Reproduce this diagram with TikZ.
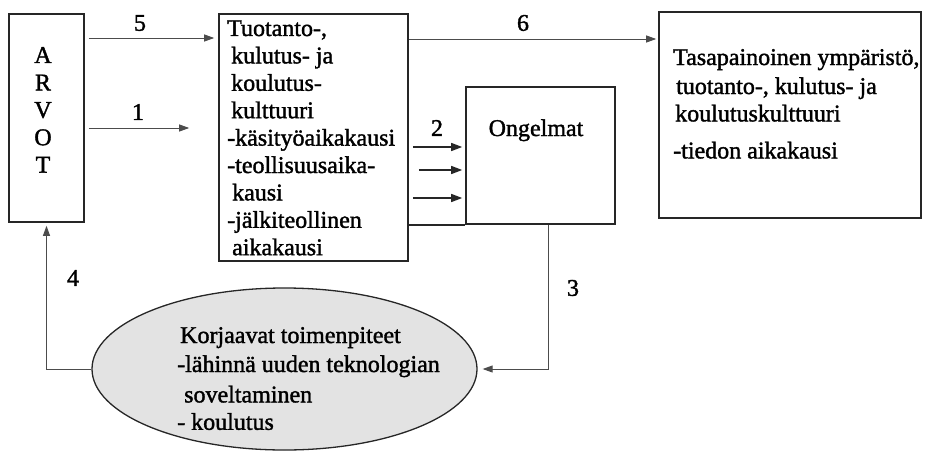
\documentclass[tikz,border=0pt]{standalone}
\usepackage{fontspec}
\setmainfont{Liberation Serif}[FakeBold=1.5]
\usetikzlibrary{arrows.meta,shapes.geometric}
\begin{document}
\begin{tikzpicture}[x=1pt,y=-1pt,
  box/.style={draw=black!85,line width=1.6pt,inner sep=0,rectangle},
  txt/.style={inner sep=0,anchor=base west,text=black,font=\fontsize{24}{27.4}\selectfont},
  lbl/.style={inner sep=0,text=black,font=\fontsize{24}{27.4}\selectfont},
  arr/.style={draw=black!70,line width=0.9pt,-{Triangle[length=10pt,width=7pt]}},
  heavy/.style={draw=black!85,line width=1.4pt,-{Triangle[length=11pt,width=8pt]}}]
\useasboundingbox (0,0) rectangle (925,452);

% boxes
\node[box,minimum width=75pt,minimum height=208pt] (arvot) at (46.5,118) {};
\node[box,minimum width=189pt,minimum height=247pt] (prod) at (313.5,137.5) {};
\node[box,minimum width=149pt,minimum height=137pt] (ong) at (540.5,155.5) {};
\node[box,minimum width=262pt,minimum height=206pt] (env) at (790,115) {};
\node[ellipse,draw=black!85,line width=1.3pt,fill=black!11,
      minimum width=385pt,minimum height=162pt,inner sep=0] (ell) at (284.5,369) {};

% box texts
\node[txt,anchor=base] (arvottxt) at (43,63)
  {\begin{tabular}[t]{@{}c@{}}A\\R\\V\\O\\T\end{tabular}};
\node[txt] (prodtxt) at (227,36)
  {\begin{tabular}[t]{@{}l@{}}Tuotanto-,\\
   \hspace*{4pt}kulutus- ja\\
   \hspace*{4pt}koulutus-\\
   \hspace*{4pt}kulttuuri\\
   -käsityöaikakausi\\
   -teollisuusaika-\\
   \hspace*{5pt}kausi\\
   -jälkiteollinen\\
   \hspace*{5pt}aikakausi\end{tabular}};
\node[txt,anchor=base] (ongtxt) at (536,136) {Ongelmat};
\node[txt] (envtxt) at (673,65)
  {\begin{tabular}[t]{@{}l@{}}Tasapainoinen ympäristö,\\[1.6pt]
   \hspace*{3pt}tuotanto-, kulutus- ja\\
   \hspace*{2pt}koulutuskulttuuri\\[9.6pt]
   -tiedon aikakausi\end{tabular}};
\node[txt] (elltxt) at (177,343)
  {\begin{tabular}[t]{@{}l@{}}\hspace*{3pt}Korjaavat toimenpiteet\\[1.6pt]
   -lähinnä uuden teknologian\\[3pt]
   \hspace*{7pt}soveltaminen\\
   - koulutus\end{tabular}};

% connectors
\draw[arr] ([xshift=4pt]arvot.east |- 0,38) -- ([xshift=-4pt]prod.west |- 0,38);
\draw[arr] ([xshift=4pt]arvot.east |- 0,128) -- ([xshift=-29pt]prod.west |- 0,128);
\draw[arr] (prod.east |- 0,39) -- ([xshift=-2pt]env.west |- 0,39);
\draw[heavy] ([xshift=4pt]prod.east |- 0,147) -- ([xshift=-3pt]ong.west |- 0,147);
\draw[heavy] ([xshift=10pt]prod.east |- 0,170) -- ([xshift=-3pt]ong.west |- 0,170);
\draw[heavy] ([xshift=4pt]prod.east |- 0,198) -- ([xshift=-3pt]ong.west |- 0,198);
\draw[draw=black!85,line width=1.6pt] (prod.east |- ong.south) -- (ong.south west);
\draw[arr] ([xshift=7.5pt]ong.south) -- ([xshift=7.5pt]ong.south |- ell.east)
  -- ([xshift=5pt]ell.east);
\draw[arr] (ell.west) -- (arvot.south |- ell.west) -- ([yshift=-3pt]arvot.south);

% connector labels
\node[lbl] (l5) at (140,23) {5};
\node[lbl] (l1) at (138,112) {1};
\node[lbl] (l6) at (523,23) {6};
\node[lbl] (l2) at (437,128) {2};
\node[lbl] (l3) at (573,288) {3};
\node[lbl] (l4) at (73,278) {4};
\end{tikzpicture}
\end{document}
